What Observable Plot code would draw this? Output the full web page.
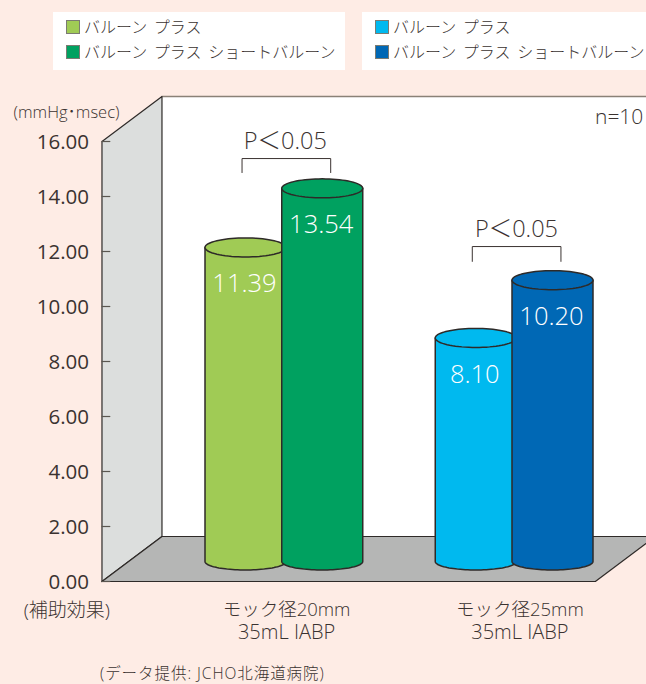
<!DOCTYPE html>
<html lang="ja">
<head>
<meta charset="utf-8">
<script src="https://cdn.jsdelivr.net/npm/d3@7"></script>
<script src="https://cdn.jsdelivr.net/npm/@observablehq/plot@0.6"></script>
<style>
  html, body { margin: 0; padding: 0; background: #feece5; overflow: hidden; }
  body { width: 646px; height: 684px; position: relative; font-family: "Open Sans", "Noto Sans CJK JP", sans-serif; color: #3a3230; font-weight: 400; }
  #legend { position: relative; height: 90px; }
  .panel { position: absolute; top: 12px; height: 58px; background: #fff; }
  .row { position: absolute; left: 13px; height: 24px; line-height: 24px; font-size: 16px; white-space: nowrap; word-spacing: 2.5px; font-weight: 300; }
  .row i { position: absolute; left: 0; top: 5px; width: 12px; height: 12px; border: 1px solid #7b7b72; }
  .row span { position: absolute; left: 18px; top: 0; }
  #caption { position: absolute; left: 100px; top: 664px; font-size: 15.5px; line-height: 18px; height: 18px; white-space: nowrap; font-weight: 300; letter-spacing: 0.95px; }
  svg { display: block; position: absolute; top: 90px; left: 0; background: transparent; }
</style>
</head>
<body>
<div id="legend"></div>
<div id="chart"></div>
<div id="caption"></div>
<script>
// ---- data ----
const categories = ["モック径20mm", "モック径25mm"];
const subCategory = "35mL IABP";
const seriesNames = ["バルーン プラス", "バルーン プラス ショートバルーン"];
const values20mm = [11.39, 13.54];
const values25mm = [8.10, 10.20];
const colors20mm = ["#a0cb55", "#00a160"];
const colors25mm = ["#00b9ef", "#0068b5"];
const yTicks = [0, 2, 4, 6, 8, 10, 12, 14, 16];
const pLabel = "P＜0.05";
const unitLabel = "(mmHg･msec)";
const effectLabel = "(補助効果)";
const nLabel = "n=10";
const captionText = "(データ提供: JCHO北海道病院)";

// ---- layout, in scale units (slots on x, measure on y) ----
const slots20 = [0, 1], slots25 = [3, 4];
const ink = "#3a3230";
const yPx = 27.5, xPx = 76.75;
const wallLeft = -1.87, wallDX = 60 / xPx, wallDY = 45 / yPx;
const rightEdge = 5.34;
const rx = 40.5 / xPx, ryTop = 9.5 / yPx, ryBot = 8.5 / yPx, baseLift = 20 / yPx, topLift = 20.8 / yPx;

// ---- legend + caption ----
function legendPanel(left, width, colors) {
  const p = document.createElement("div");
  p.className = "panel";
  p.style.left = left + "px"; p.style.width = width + "px";
  seriesNames.forEach((name, i) => {
    const r = document.createElement("div");
    r.className = "row";
    r.style.top = (3 + i * 24.5) + "px";
    const sw = document.createElement("i"); sw.style.background = colors[i];
    const t = document.createElement("span"); t.textContent = name;
    r.append(sw, t); p.append(r);
  });
  document.getElementById("legend").append(p);
}
legendPanel(53, 292, colors20mm);
legendPanel(362, 284, colors25mm);
document.getElementById("caption").textContent = captionText;

// ---- geometry helpers ----
const closed = (pts) => [...pts, pts[0]].map(([x, y]) => ({x, y}));
function topEllipse(c, v) {
  return d3.range(0, 73).map(i => {
    const a = i / 72 * 2 * Math.PI;
    return {x: c + rx * Math.cos(a), y: v + topLift + ryTop * Math.sin(a)};
  });
}
function body(c, v) {
  const arc = d3.range(0, 49).map(i => {
    const a = i / 48 * Math.PI;
    return {x: c - rx * Math.cos(a), y: baseLift - ryBot * Math.sin(a)};
  });
  return [{x: c - rx, y: v + topLift}, ...arc, {x: c + rx, y: v + topLift}];
}
function cylinder(c, v, color) {
  const o = {x: "x", y: "y", fill: color, stroke: "#2e2a28", strokeWidth: 1.5, strokeLinejoin: "round"};
  return [Plot.line(body(c, v), o), Plot.line(topEllipse(c, v), o)];
}
const rows = [
  ...values20mm.map((v, i) => ({slot: slots20[i], v, color: colors20mm[i]})),
  ...values25mm.map((v, i) => ({slot: slots25[i], v, color: colors25mm[i]}))
];
const bracket = (x1, x2, top, end) => [{x: x1, y: end}, {x: x1, y: top}, {x: x2, y: top}, {x: x2, y: end}];

const topY = 16 + wallDY;
const fontFamily = '"Open Sans", "Noto Sans CJK JP", sans-serif';

const chart = Plot.plot({
  width: 646, height: 570,
  marginLeft: 101.5, marginRight: 0, marginTop: 0, marginBottom: 0,
  style: {fontFamily, background: "transparent", overflow: "visible"},
  x: {type: "linear", domain: [0, 4], range: [245, 552], axis: null},
  y: {type: "linear", domain: [0, 16], range: [491, 51], axis: null},
  marks: [
    // back wall
    Plot.line(closed([[wallLeft + wallDX, wallDY], [rightEdge + 1, wallDY], [rightEdge + 1, topY], [wallLeft + wallDX, topY]]),
      {x: "x", y: "y", fill: "#fff", stroke: "none"}),
    Plot.ruleY([topY], {x1: wallLeft + wallDX, x2: rightEdge + 1, stroke: "#8a8177", strokeWidth: 1.5}),
    // left wall
    Plot.line(closed([[wallLeft, 0], [wallLeft + wallDX, wallDY], [wallLeft + wallDX, topY], [wallLeft, 16]]),
      {x: "x", y: "y", fill: "#dcdedd", stroke: "#2e2a28", strokeWidth: 1.2}),
    // floor
    Plot.line(closed([[wallLeft, 0], [wallLeft + wallDX, wallDY], [rightEdge, wallDY], [rightEdge - wallDX, 0]]),
      {x: "x", y: "y", fill: "#b5b6b5", stroke: "#2e2a28", strokeWidth: 1.2}),
    // y ticks + axis
    Plot.ruleY(yTicks, {x1: wallLeft, x2: wallLeft + 0.115, stroke: "#5a5650", strokeWidth: 1.2}),
    Plot.axisY({ticks: yTicks, tickSize: 0, tickPadding: 13, tickFormat: d => d.toFixed(2), label: null, fontSize: 20.5, fill: ink, dy: 1}),
    // cylinders
    ...rows.flatMap(d => cylinder(d.slot, d.v, d.color)),
    Plot.text(rows, {x: "slot", y: "v", text: d => d.v.toFixed(2), fill: "#fff", fontSize: 25.5, fontWeight: 300, dy: 16, dx: -1}),
    // significance
    Plot.line(bracket(-0.045, 1.11, 15.38, 14.87), {x: "x", y: "y", stroke: ink, strokeWidth: 1}),
    Plot.line(bracket(-0.045 + 3, 1.11 + 3, 12.18, 11.64), {x: "x", y: "y", stroke: ink, strokeWidth: 1}),
    Plot.text([pLabel], {x: 0.52, y: 15.38, dy: -17, text: d => d, fontSize: 23.5, fontWeight: 300, fill: ink}),
    Plot.text([pLabel], {x: 3.53, y: 12.18, dy: -17, text: d => d, fontSize: 23.5, fontWeight: 300, fill: ink}),
    // notes
    Plot.text([unitLabel], {x: wallLeft, y: 16, dx: 17.5, dy: -29, textAnchor: "end", text: d => d, fontSize: 16.5, fontWeight: 300, fill: ink}),
    Plot.text([nLabel], {x: rightEdge, y: 16, dx: -12, dy: -24, textAnchor: "end", text: d => d, fontSize: 21, fontWeight: 300, fill: ink}),
    Plot.text([effectLabel], {x: wallLeft, y: 0, dx: 8, dy: 29, textAnchor: "end", text: d => d, fontSize: 19, fontWeight: 300, fill: ink}),
    // category labels
    Plot.text(categories, {x: (d, i) => [0.535, 3.575][i], y: 0, dy: 29, text: d => d, fontSize: 18.5, fontWeight: 300, fill: ink}),
    Plot.text(categories, {x: (d, i) => [0.535, 3.575][i], y: 0, dy: 51, text: () => subCategory, fontSize: 20, fontWeight: 300, fill: ink})
  ]
});
document.getElementById("chart").append(chart);
</script>
</body>
</html>
